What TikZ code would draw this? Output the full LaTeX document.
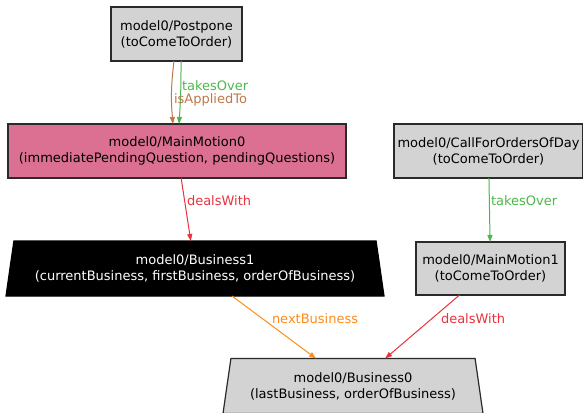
\documentclass[tikz,border=0pt]{standalone}
\usepackage{fontspec}
\setmainfont{DejaVu Sans}
\usetikzlibrary{shapes.geometric,arrows.meta}
\definecolor{boxgray}{HTML}{D3D3D3}
\definecolor{pinkmm}{HTML}{DB7093}
\definecolor{edgered}{HTML}{E8333D}
\definecolor{edgegreen}{HTML}{4CB84C}
\definecolor{edgebrown}{HTML}{C0784A}
\definecolor{edgeorange}{HTML}{FF8C1A}
\definecolor{bordergray}{HTML}{2A2A2A}
\begin{document}
\begin{tikzpicture}[x=1pt,y=-1pt,
  every node/.style={font=\fontsize{13}{16}\selectfont, align=center, inner sep=0pt, outer sep=0pt},
  box/.style={draw=bordergray, line width=1.2pt, fill=boxgray, rectangle, minimum height=54pt},
  thickbox/.style={box, line width=2.6pt},
  trap/.style={trapezium, trapezium stretches body, trapezium left angle=74, trapezium right angle=74, line width=1.2pt, minimum height=55pt},
  edge/.style={line width=1pt, -{Triangle[length=7pt,width=5pt]}},
  lbl/.style={anchor=west}]
\useasboundingbox (0,0) rectangle (583,412);
\fill[white] (0,0) rectangle (583,412);

\node[box, minimum width=131pt] (pp) at (176.5,34) {model0/Postpone\\(toComeToOrder)};
\node[thickbox, fill=pinkmm, minimum width=338pt] (mm0) at (177,151) {model0/MainMotion0\\(immediatePendingQuestion, pendingQuestions)};
\node[box, minimum width=189pt] (cfo) at (488.5,151) {model0/CallForOrdersOfDay\\(toComeToOrder)};
\node[thickbox, minimum width=149pt, minimum height=53pt] (mm1) at (490.5,268.5) {model0/MainMotion1\\(toComeToOrder)};
\node[trap, draw=black, fill=black, text=white, minimum width=378pt] (b1) at (195,268.5) {model0/Business1\\(currentBusiness, firstBusiness, orderOfBusiness)};
\node[trap, draw=bordergray, fill=boxgray, minimum width=260pt] (b0) at (353,386) {model0/Business0\\(lastBusiness, orderOfBusiness)};

\draw[edge, edgebrown] ([xshift=-2.5pt]pp.south) to[bend right=6] ([xshift=-4pt]mm0.north);
\draw[edge, edgegreen] ([xshift=4.5pt]pp.south) to[bend left=2] ([xshift=2pt]mm0.north);
\draw[edge, edgered] (mm0) -- (b1);
\draw[edge, edgegreen] (cfo) -- (mm1);
\draw[edge, edgeorange] (b1) -- (b0);
\draw[edge, edgered] (mm1) -- (b0);

\node[lbl, text=edgegreen] (l1) at (182,86) {takesOver};
\node[lbl, text=edgebrown] (l2) at (174,100) {isAppliedTo};
\node[lbl, text=edgered] (l3) at (187,201) {dealsWith};
\node[lbl, text=edgegreen] (l4) at (491,201) {takesOver};
\node[lbl, text=edgeorange] (l5) at (272,319) {nextBusiness};
\node[lbl, text=edgered] (l6) at (441,319) {dealsWith};
\end{tikzpicture}
\end{document}
